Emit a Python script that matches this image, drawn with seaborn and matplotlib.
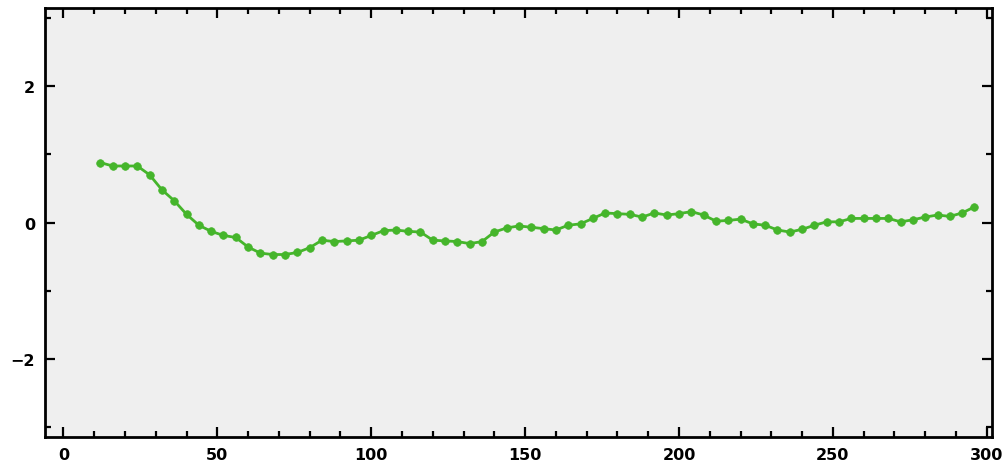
import matplotlib
matplotlib.use("Agg")
import matplotlib.pyplot as plt
from matplotlib.ticker import MultipleLocator
import numpy as np
import pandas as pd
import seaborn as sns

# Sample positions and the smoothed signal measured at each one
positions = [12, 16, 20, 24, 28, 32, 36, 40, 44, 48, 52, 56, 60, 64, 68, 72,
             76, 80, 84, 88, 92, 96, 100, 104, 108, 112, 116, 120, 124, 128,
             132, 136, 140, 144, 148, 152, 156, 160, 164, 168, 172, 176, 180,
             184, 188, 192, 196, 200, 204, 208, 212, 216, 220, 224, 228, 232,
             236, 240, 244, 248, 252, 256, 260, 264, 268, 272, 276, 280, 284,
             288, 292, 296]
signal = [0.88, 0.83, 0.83, 0.83, 0.70, 0.48, 0.32, 0.12, -0.04, -0.13, -0.19,
          -0.22, -0.36, -0.45, -0.47, -0.47, -0.44, -0.37, -0.26, -0.28, -0.27,
          -0.26, -0.19, -0.12, -0.11, -0.13, -0.14, -0.26, -0.27, -0.28, -0.31,
          -0.28, -0.14, -0.08, -0.05, -0.07, -0.09, -0.11, -0.04, -0.02, 0.06,
          0.14, 0.13, 0.12, 0.08, 0.14, 0.11, 0.13, 0.16, 0.11, 0.02, 0.03,
          0.05, -0.02, -0.04, -0.11, -0.14, -0.10, -0.04, 0.01, 0.01, 0.06,
          0.06, 0.06, 0.06, 0.01, 0.04, 0.08, 0.11, 0.09, 0.14, 0.23]

df = pd.DataFrame({"position": positions, "signal": signal})

sns.set_style("ticks")
plt.rcParams["font.family"] = ["DejaVu Sans"]

fig = plt.figure(figsize=(10.06, 4.64), dpi=100)
ax = fig.add_axes([0.0447, 0.056, 0.9414, 0.9246])
ax.set_facecolor("#efefef")

sns.lineplot(data=df, x="position", y="signal", ax=ax, color="#45b52b",
             linewidth=2.0, marker="o", markersize=5.5,
             markeredgecolor="#45b52b", markeredgewidth=0.5)

ax.set_xlim(-6, 301.7)
ax.set_ylim(-3.15, 3.15)
ax.xaxis.set_major_locator(MultipleLocator(50))
ax.xaxis.set_minor_locator(MultipleLocator(10))
ax.yaxis.set_major_locator(MultipleLocator(2))
ax.yaxis.set_minor_locator(MultipleLocator(1))

ax.tick_params(which="both", direction="in", top=True, right=True,
               color="black", width=1.6, labelcolor="black")
ax.tick_params(which="major", length=7, labelsize=11.5, pad=7)
ax.tick_params(which="minor", length=4)
for lab in ax.get_xticklabels() + ax.get_yticklabels():
    lab.set_fontweight("bold")

for sp in ax.spines.values():
    sp.set_color("black")
    sp.set_linewidth(2.0)

ax.set_xlabel("")
ax.set_ylabel("")

fig.savefig("out.png", dpi=100)
